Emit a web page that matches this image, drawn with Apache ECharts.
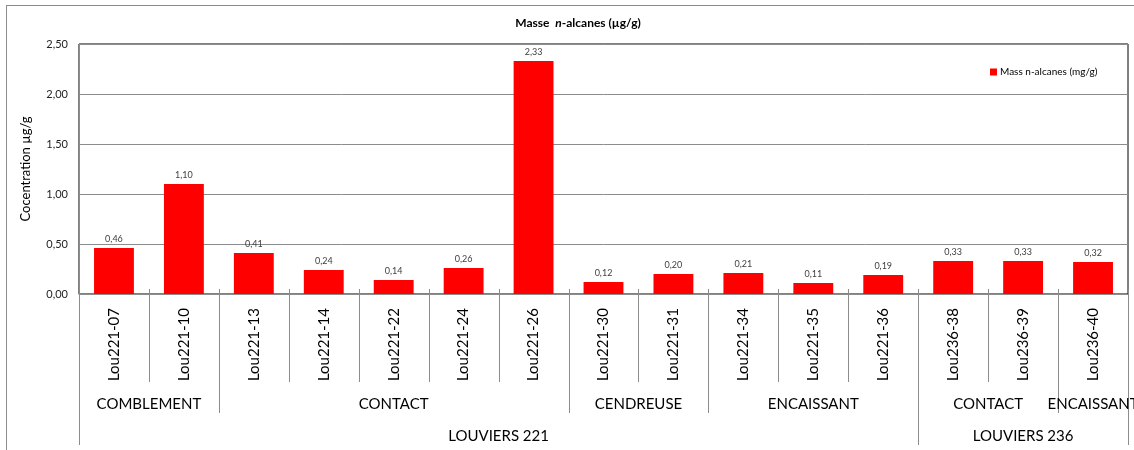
<!DOCTYPE html>
<html>
<head>
<meta charset="utf-8">
<script src="https://cdn.jsdelivr.net/npm/echarts@6/dist/echarts.min.js"></script>
<style>
  html, body { margin: 0; padding: 0; background: #fff; }
  #frame { position: absolute; left: 6px; top: 5px; width: 1200px; height: 500px;
           border-left: 1px solid #8c8c8c; border-top: 1px solid #8c8c8c; }
  #chart { position: absolute; left: 0; top: 0; width: 1134px; height: 450px; }
</style>
</head>
<body>
<div id="frame"></div>
<div id="chart"></div>
<script>
const samples = ["Lou221-07", "Lou221-10", "Lou221-13", "Lou221-14", "Lou221-22", "Lou221-24",
  "Lou221-26", "Lou221-30", "Lou221-31", "Lou221-34", "Lou221-35", "Lou221-36",
  "Lou236-38", "Lou236-39", "Lou236-40"];
const massAlcanes = [0.46, 1.10, 0.41, 0.24, 0.14, 0.26, 2.33, 0.12, 0.20, 0.21, 0.11, 0.19, 0.33, 0.33, 0.32];
// [label, first index, last index]
const zones = [["COMBLEMENT", 0, 1], ["CONTACT", 2, 6], ["CENDREUSE", 7, 8],
  ["ENCAISSANT", 9, 11], ["CONTACT", 12, 13], ["ENCAISSANT", 14, 14]];
const sites = [["LOUVIERS 221", 0, 11], ["LOUVIERS 236", 12, 14]];
const yTicks = [0, 0.5, 1, 1.5, 2, 2.5];

const FONT = "Lato, 'Liberation Sans', sans-serif";
const fmt = v => v.toFixed(2).replace(".", ",");

// separator depth for each category boundary (1 = sample, 2 = zone, 3 = site)
const boundaries = [];
for (let b = 0; b <= samples.length; b++) {
  let level = 1;
  zones.forEach(z => { if (z[1] === b || z[2] + 1 === b) level = Math.max(level, 2); });
  sites.forEach(s => { if (s[1] === b || s[2] + 1 === b) level = 3; });
  boundaries.push([b, level]);
}
const lineEnd = { 1: 88, 2: 119, 3: 151 };

const chart = echarts.init(document.getElementById("chart"));
chart.setOption({
  animation: false,
  textStyle: { fontFamily: FONT },
  title: {
    text: "{b|Masse  }{i|n}{b|-alcanes (µg/g)}",
    left: 573, top: 12, textAlign: "center",
    textStyle: {
      rich: {
        b: { fontFamily: FONT, fontSize: 12, fontWeight: "bold", color: "#000" },
        i: { fontFamily: FONT, fontSize: 12, fontWeight: "bold", fontStyle: "italic", color: "#000" }
      }
    }
  },
  legend: {
    left: 985, top: 62,
    icon: "rect", itemWidth: 7, itemHeight: 7, itemGap: 4,
    data: ["Mass n-alcanes (mg/g)"],
    textStyle: { fontFamily: FONT, fontSize: 10, color: "#000", padding: [0, 0, 0, -2] }
  },
  grid: {
    left: 79, right: 6, top: 44, bottom: 156,
    show: true, borderColor: "#000", borderWidth: 1
  },
  xAxis: {
    type: "category",
    data: samples,
    axisLine: { lineStyle: { color: "#8c8c8c" } },
    axisTick: { show: false },
    axisLabel: {
      interval: 0, rotate: 90, margin: 14,
      fontFamily: FONT, fontSize: 15, color: "#000"
    }
  },
  yAxis: {
    type: "value",
    min: 0, max: 2.5, interval: 0.5,
    name: "Cocentration µg/g",
    nameLocation: "middle", nameGap: 47, nameRotate: 90,
    nameTextStyle: { fontFamily: FONT, fontSize: 13, color: "#000" },
    axisLine: { show: true, lineStyle: { color: "#8c8c8c" } },
    axisTick: { show: false },
    splitLine: { lineStyle: { color: "#8c8c8c" } },
    axisLabel: {
      margin: 11, fontFamily: FONT, fontSize: 11, color: "#222",
      formatter: v => yTicks.indexOf(v) >= 0 ? fmt(v) : ""
    }
  },
  series: [
    {
      name: "Mass n-alcanes (mg/g)",
      type: "bar",
      barWidth: "57%",
      itemStyle: { color: "#ff0000" },
      label: {
        show: true, position: "top", distance: 4,
        fontFamily: FONT, fontSize: 9, color: "#404040",
        formatter: p => fmt(p.value)
      },
      data: massAlcanes
    },
    {
      // category separators under the axis
      type: "custom",
      clip: false,
      silent: true,
      data: boundaries,
      renderItem: (params, api) => {
        const b = boundaries[params.dataIndex];
        const band = api.size([1, 0])[0];
        const x = Math.round(api.coord([0, 0])[0] - band / 2 + b[0] * band) + 0.5;
        const y0 = api.coord([0, 0])[1];
        return {
          type: "line",
          shape: { x1: x, y1: y0 - 5, x2: x, y2: y0 + lineEnd[b[1]] },
          style: { stroke: "#8c8c8c", lineWidth: 1 }
        };
      }
    },
    {
      // zone and site labels
      type: "custom",
      clip: false,
      silent: true,
      data: zones.map(z => [z[1], z[2]]).concat(sites.map(s => [s[1], s[2]])),
      renderItem: (params, api) => {
        const isZone = params.dataIndex < zones.length;
        const g = isZone ? zones[params.dataIndex] : sites[params.dataIndex - zones.length];
        const band = api.size([1, 0])[0];
        const xa = api.coord([g[1], 0])[0] - band / 2;
        const xb = api.coord([g[2], 0])[0] + band / 2;
        const y0 = api.coord([0, 0])[1];
        return {
          type: "text",
          style: {
            text: g[0], x: (xa + xb) / 2, y: y0 + (isZone ? 110 : 142),
            align: "center", verticalAlign: "middle",
            font: "15px " + FONT, fill: "#000"
          }
        };
      }
    }
  ]
});
</script>
</body>
</html>
